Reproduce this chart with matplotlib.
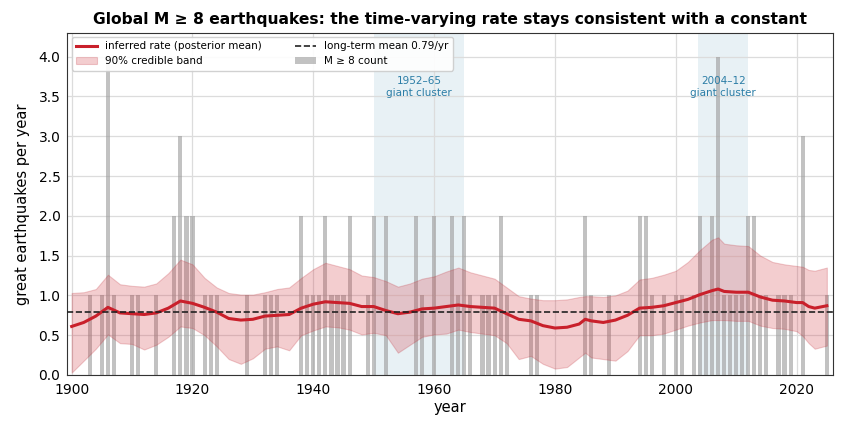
import matplotlib
matplotlib.use("Agg")
import matplotlib.pyplot as plt
import numpy as np

# yearly counts of M >= 8 events (years with zero are left out)
count_years = [1903, 1905, 1906, 1907, 1910, 1911, 1914, 1917, 1918, 1919, 1920,
               1922, 1923, 1924, 1929, 1932, 1933, 1934, 1938, 1939, 1940, 1941,
               1942, 1943, 1944, 1945, 1946, 1949, 1950, 1952, 1957, 1958, 1960,
               1963, 1964, 1965, 1966, 1968, 1969, 1970, 1971, 1972, 1976, 1977,
               1985, 1986, 1989, 1994, 1995, 1996, 1998, 2000, 2001, 2003, 2004,
               2005, 2006, 2007, 2008, 2009, 2010, 2011, 2012, 2013, 2014, 2015,
               2017, 2018, 2019, 2021, 2025]
counts = [1, 1, 4, 1, 1, 1, 1, 2, 3, 2, 2,
          1, 1, 1, 1, 1, 1, 1, 2, 1, 1, 1,
          2, 1, 1, 1, 2, 1, 2, 2, 2, 1, 2,
          2, 1, 2, 1, 1, 1, 1, 2, 1, 1, 1,
          2, 1, 1, 2, 2, 1, 1, 1, 1, 1, 2,
          1, 2, 4, 1, 1, 1, 1, 2, 2, 1, 1,
          1, 1, 1, 3, 1]

# posterior rate curve
rate_years = [1900, 1902, 1904, 1906, 1908, 1910, 1912, 1914, 1916, 1918, 1920,
              1922, 1924, 1926, 1928, 1930, 1932, 1934, 1936, 1938, 1940, 1942,
              1944, 1946, 1948, 1950, 1952, 1954, 1956, 1958, 1960, 1962, 1964,
              1966, 1968, 1970, 1972, 1974, 1976, 1978, 1980, 1982, 1984, 1985,
              1986, 1988, 1990, 1992, 1994, 1996, 1998, 2000, 2002, 2004, 2006,
              2007, 2008, 2010, 2012, 2014, 2016, 2018, 2020, 2021, 2022, 2023, 2025]
rate_mean = [0.61, 0.66, 0.74, 0.85, 0.78, 0.77, 0.76, 0.78, 0.84, 0.93, 0.90,
             0.85, 0.79, 0.71, 0.69, 0.70, 0.74, 0.75, 0.76, 0.84, 0.89, 0.92,
             0.91, 0.90, 0.86, 0.86, 0.81, 0.77, 0.79, 0.83, 0.84, 0.86, 0.88,
             0.86, 0.85, 0.84, 0.77, 0.70, 0.68, 0.62, 0.59, 0.60, 0.64, 0.70,
             0.68, 0.66, 0.69, 0.75, 0.84, 0.85, 0.87, 0.91, 0.95, 1.01, 1.06,
             1.08, 1.05, 1.04, 1.04, 0.98, 0.94, 0.93, 0.91, 0.91, 0.86, 0.84, 0.87]
rate_lo = [0.03, 0.18, 0.33, 0.51, 0.40, 0.39, 0.32, 0.38, 0.48, 0.61, 0.59,
           0.50, 0.36, 0.20, 0.14, 0.21, 0.33, 0.36, 0.31, 0.50, 0.56, 0.61,
           0.60, 0.57, 0.51, 0.53, 0.50, 0.28, 0.38, 0.48, 0.51, 0.52, 0.57,
           0.54, 0.52, 0.50, 0.40, 0.20, 0.24, 0.14, 0.08, 0.10, 0.22, 0.28,
           0.22, 0.20, 0.18, 0.30, 0.50, 0.50, 0.52, 0.57, 0.62, 0.66, 0.69,
           0.69, 0.69, 0.68, 0.68, 0.62, 0.59, 0.58, 0.55, 0.49, 0.40, 0.33, 0.37]
rate_hi = [1.03, 1.04, 1.08, 1.26, 1.14, 1.12, 1.11, 1.15, 1.28, 1.45, 1.39,
           1.22, 1.10, 1.03, 1.01, 1.01, 1.04, 1.08, 1.10, 1.22, 1.33, 1.41,
           1.37, 1.33, 1.25, 1.23, 1.18, 1.11, 1.15, 1.21, 1.24, 1.30, 1.35,
           1.29, 1.25, 1.21, 1.10, 0.99, 0.96, 0.94, 0.94, 0.95, 0.98, 0.99,
           0.99, 0.98, 1.00, 1.06, 1.20, 1.22, 1.26, 1.31, 1.42, 1.57, 1.70,
           1.73, 1.65, 1.63, 1.62, 1.50, 1.42, 1.39, 1.37, 1.36, 1.32, 1.31, 1.35]

long_term_mean = 0.79
clusters = [(1950, 1965, "1952\u201365\ngiant cluster"),
            (2003.7, 2012, "2004\u201312\ngiant cluster")]

fig = plt.figure(figsize=(8.43, 4.32), dpi=100)
ax = fig.add_axes([0.08, 0.132, 0.908, 0.792])

for a, b, label in clusters:
    ax.axvspan(a, b, color="#d6e6ee", alpha=0.55, lw=0, zorder=0)
    ax.text((a + b) / 2, 3.62, label, ha="center", va="center",
            fontsize=7.5, color="#2b7da6", zorder=5)

ax.bar(count_years, counts, width=0.68, color="#9a9a9a", alpha=0.6,
       label="M \u2265 8 count", zorder=2)
ax.fill_between(rate_years, rate_lo, rate_hi, facecolor="#d0303a", alpha=0.24,
                edgecolor="#c0303a", linewidth=0.8, label="90% credible band", zorder=3)
ax.plot(rate_years, rate_mean, color="#c9202b", lw=2.2,
        label="inferred rate (posterior mean)", zorder=4)
ax.axhline(long_term_mean, color="#222222", ls="--", lw=1.2,
           label=f"long-term mean {long_term_mean:.2f}/yr", zorder=4)

ax.set_xlim(1899.3, 2026)
ax.set_ylim(0, 4.3)
ax.set_xticks(np.arange(1900, 2021, 20))
ax.set_yticks(np.arange(0, 4.01, 0.5))
ax.yaxis.set_major_formatter(matplotlib.ticker.FormatStrFormatter("%.1f"))
ax.grid(True, color="#dcdcdc", lw=0.9, zorder=0)
ax.set_axisbelow(True)
for s in ax.spines.values():
    s.set_color("#333333")
ax.tick_params(labelsize=10, length=0)
ax.tick_params(axis="x", pad=6)
ax.tick_params(axis="y", pad=5)

ax.set_xlabel("year", fontsize=10.5, labelpad=2)
ax.set_ylabel("great earthquakes per year", fontsize=10.5, labelpad=6)
ax.set_title("Global M \u2265 8 earthquakes: the time-varying rate stays consistent with a constant",
             fontsize=11.2, fontweight="bold")

h, l = ax.get_legend_handles_labels()
order = [l.index("inferred rate (posterior mean)"), l.index("90% credible band"),
         l.index(f"long-term mean {long_term_mean:.2f}/yr"), l.index("M \u2265 8 count")]
ax.legend([h[i] for i in order], [l[i] for i in order], loc="upper left", ncol=2,
          fontsize=7.5, framealpha=0.9, columnspacing=3.2, borderaxespad=0.4)

fig.savefig("out.png", dpi=100)
